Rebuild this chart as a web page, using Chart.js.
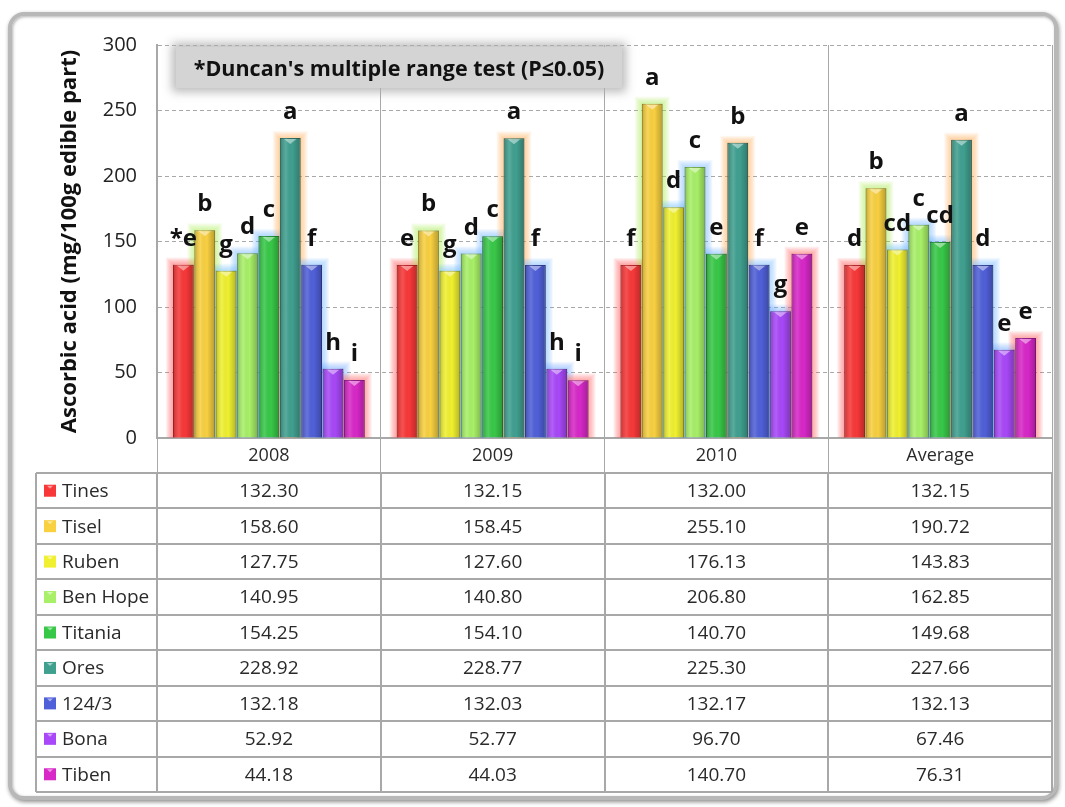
<!DOCTYPE html>
<html>
<head>
<meta charset="utf-8">
<script src="https://cdn.jsdelivr.net/npm/chart.js@4/dist/chart.umd.min.js"></script>
<style>
  html, body { margin: 0; padding: 0; background: #fff; }
  body { width: 1065px; height: 807px; position: relative; overflow: hidden; font-family: "Open Sans", sans-serif; }
  #frame { position: absolute; left: 8px; top: 12px; width: 1042px; height: 780px; border: 4px solid #b8b8b8; border-radius: 16px;
           box-shadow: 1px 2px 4px rgba(0,0,0,.45), inset 1px 1px 3px rgba(0,0,0,.3); background: #fff; }
  #chartBox { position: absolute; left: 0; top: 0; width: 1065px; height: 807px; }
  #duncan { position: absolute; left: 176px; top: 47px; width: 446px; height: 41px; background: #d4d4d4;
            box-shadow: 0 0 9px 4px rgba(175,175,175,.85); font: bold 21.5px "Open Sans", sans-serif; line-height: 41px;
            text-align: center; color: #111; white-space: nowrap; }
</style>
</head>
<body>
<div id="frame"></div>
<div id="chartBox"><canvas id="chart"></canvas></div>
<div id="duncan">*Duncan's multiple range test (P≤0.05)</div>
<script>
const categories = ['2008', '2009', '2010', 'Average'];
const varieties = ['Tines', 'Tisel', 'Ruben', 'Ben Hope', 'Titania', 'Ores', '124/3', 'Bona', 'Tiben'];

const tines   = [132.30, 132.15, 132.00, 132.15];
const tisel   = [158.60, 158.45, 255.10, 190.72];
const ruben   = [127.75, 127.60, 176.13, 143.83];
const benHope = [140.95, 140.80, 206.80, 162.85];
const titania = [154.25, 154.10, 140.70, 149.68];
const ores    = [228.92, 228.77, 225.30, 227.66];
const line1243 = [132.18, 132.03, 132.17, 132.13];
const bona    = [52.92, 52.77, 96.70, 67.46];
const tiben   = [44.18, 44.03, 140.70, 76.31];

// Duncan letters, per variety, per category
const tinesLetters   = ['*e', 'e', 'f', 'd'];
const tiselLetters   = ['b', 'b', 'a', 'b'];
const rubenLetters   = ['g', 'g', 'd', 'cd'];
const benHopeLetters = ['d', 'd', 'c', 'c'];
const titaniaLetters = ['c', 'c', 'e', 'cd'];
const oresLetters    = ['a', 'a', 'b', 'a'];
const line1243Letters = ['f', 'f', 'f', 'd'];
const bonaLetters    = ['h', 'h', 'g', 'e'];
const tibenLetters   = ['i', 'i', 'e', 'e'];

const yTicks = {min: 0, max: 300, step: 50};

const values = [tines, tisel, ruben, benHope, titania, ores, line1243, bona, tiben];
const letters = [tinesLetters, tiselLetters, rubenLetters, benHopeLetters, titaniaLetters,
                 oresLetters, line1243Letters, bonaLetters, tibenLetters];

const fills   = ['#f83838', '#f8d040', '#f0f030', '#a8f068', '#38c848', '#40a090', '#5060d8', '#a848f8', '#d828c8'];
const borders = ['#b82828', '#b89830', '#b0b020', '#78b048', '#289038', '#2d7066', '#38449a', '#7834b0', '#981c8c'];
const glows   = ['255,80,80', '170,230,80', '110,190,255', '110,180,255', '110,180,255',
                 '255,170,80', '110,180,255', '110,170,255', '255,90,90'];

const TABLE_LEFT = 36, TABLE_BOTTOM = 792, LINE = '#a8a8a8';

// soft coloured halo behind every bar
const glowPlugin = {
    id: 'glow',
    beforeDatasetsDraw(chart) {
        const ctx = chart.ctx;
        ctx.save();
        chart.data.datasets.forEach((ds, i) => {
            chart.getDatasetMeta(i).data.forEach(bar => {
                const w = bar.width, left = bar.x - w / 2, top = bar.y;
                for (let k = 7; k >= 1; k--) {
                    ctx.fillStyle = 'rgba(' + glows[i] + ',' + (0.09) + ')';
                    ctx.fillRect(left - k, top - k, w + 2 * k, bar.base - top + k);
                }
            });
        });
        ctx.restore();
    }
};

const letterPlugin = {
    id: 'letters',
    afterDatasetsDraw(chart) {
        const ctx = chart.ctx;
        ctx.save();
        // cylinder shading on every bar
        chart.data.datasets.forEach((ds, i) => {
            chart.getDatasetMeta(i).data.forEach(bar => {
                const w = bar.width, left = bar.x - w / 2, top = bar.y, h = bar.base - bar.y;
                const g = ctx.createLinearGradient(left, 0, left + w, 0);
                g.addColorStop(0, 'rgba(0,0,0,0.22)');
                g.addColorStop(0.3, 'rgba(255,255,255,0.12)');
                g.addColorStop(0.6, 'rgba(0,0,0,0)');
                g.addColorStop(1, 'rgba(0,0,0,0.25)');
                ctx.fillStyle = g;
                ctx.fillRect(left, top, w, h);
                ctx.fillStyle = 'rgba(255,255,255,0.45)';
                ctx.beginPath();
                ctx.moveTo(bar.x - w * 0.3, top + 1);
                ctx.lineTo(bar.x + w * 0.3, top + 1);
                ctx.lineTo(bar.x, top + 6);
                ctx.closePath();
                ctx.fill();
            });
        });
        ctx.font = 'bold 24px "Open Sans", sans-serif';
        ctx.fillStyle = '#111';
        ctx.textAlign = 'center';
        ctx.textBaseline = 'alphabetic';
        chart.data.datasets.forEach((ds, i) => {
            chart.getDatasetMeta(i).data.forEach((bar, j) => {
                ctx.fillText(letters[i][j], bar.x, bar.y - 19);
            });
        });
        ctx.restore();
    }
};

// data table drawn under the x axis, columns taken from the x scale
const tablePlugin = {
    id: 'dataTable',
    afterDraw(chart) {
        const ctx = chart.ctx;
        const x = chart.scales.x;
        const top = x.bottom;
        const rowH = (TABLE_BOTTOM - top) / varieties.length;
        const colW = (x.right - x.left) / categories.length;
        ctx.save();
        ctx.strokeStyle = LINE;
        ctx.lineWidth = 2;
        ctx.beginPath();
        for (let r = 0; r <= varieties.length; r++) {
            const y = Math.round(top + r * rowH);
            ctx.moveTo(TABLE_LEFT, y);
            ctx.lineTo(x.right, y);
        }
        ctx.moveTo(TABLE_LEFT, top);
        ctx.lineTo(TABLE_LEFT, TABLE_BOTTOM);
        for (let c = 0; c <= categories.length; c++) {
            const xx = Math.round(x.left + c * colW);
            ctx.moveTo(xx, top);
            ctx.lineTo(xx, TABLE_BOTTOM);
        }
        ctx.stroke();

        ctx.font = '19px "Open Sans", sans-serif';
        ctx.fillStyle = '#2a2a2a';
        ctx.textBaseline = 'middle';
        varieties.forEach((name, r) => {
            const cy = top + (r + 0.5) * rowH;
            ctx.fillStyle = fills[r];
            ctx.fillRect(TABLE_LEFT + 8, cy - 6, 12, 12);
            ctx.fillStyle = 'rgba(255,255,255,0.5)';
            ctx.beginPath();
            ctx.moveTo(TABLE_LEFT + 11, cy - 5);
            ctx.lineTo(TABLE_LEFT + 17, cy - 5);
            ctx.lineTo(TABLE_LEFT + 14, cy - 2);
            ctx.closePath();
            ctx.fill();
            ctx.fillStyle = '#2a2a2a';
            ctx.textAlign = 'left';
            ctx.fillText(name, TABLE_LEFT + 26, cy + 1);
            ctx.textAlign = 'center';
            values[r].forEach((v, c) => {
                ctx.fillText(v.toFixed(2), x.getPixelForValue(c), cy + 1);
            });
        });
        ctx.restore();
    }
};

new Chart(document.getElementById('chart'), {
    type: 'bar',
    data: {
        labels: categories,
        datasets: varieties.map((name, i) => ({
            label: name,
            data: values[i],
            backgroundColor: fills[i],
            borderColor: borders[i],
            borderWidth: 1,
            categoryPercentage: 0.86,
            barPercentage: 0.97
        }))
    },
    options: {
        responsive: true,
        maintainAspectRatio: false,
        animation: false,
        layout: {padding: {left: 36, right: 13, top: 45, bottom: 334}},
        plugins: {legend: {display: false}, tooltip: {enabled: false}},
        scales: {
            x: {
                grid: {color: LINE, lineWidth: 1, offset: true, tickLength: 35, tickColor: LINE},
                border: {color: LINE, width: 2},
                ticks: {color: '#2a2a2a', font: {family: 'Open Sans', size: 18}, padding: -28},
                afterFit(scale) { scale.height = 35; }
            },
            y: {
                min: yTicks.min,
                max: yTicks.max,
                grid: {color: LINE, lineWidth: 1, drawTicks: false},
                border: {color: LINE, width: 2, dash: [4, 3]},
                ticks: {stepSize: yTicks.step, color: '#222', font: {family: 'Open Sans', size: 20}, padding: 20},
                title: {
                    display: true,
                    text: 'Ascorbic acid (mg/100g edible part)',
                    color: '#111',
                    font: {family: 'Open Sans', size: 22, weight: 'bold'},
                    padding: {top: 21, bottom: 0}
                },
                afterFit(scale) { scale.width = 121; }
            }
        }
    },
    plugins: [glowPlugin, letterPlugin, tablePlugin]
});
</script>
</body>
</html>
